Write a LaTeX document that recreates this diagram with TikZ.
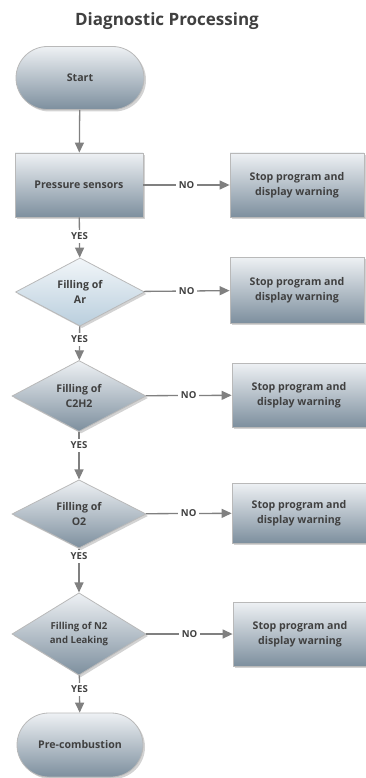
\documentclass[tikz,border=0pt]{standalone}
\usepackage{fontspec}
\setmainfont{Open Sans}
\usetikzlibrary{shapes.geometric,shapes.misc,shadows,arrows.meta}

\definecolor{txtgray}{HTML}{404040}
\definecolor{linegray}{HTML}{808080}
\definecolor{boxtop}{HTML}{EEF1F4}
\definecolor{boxbot}{HTML}{7D8F9E}
\definecolor{lighttop}{HTML}{F2F6F9}
\definecolor{lightbot}{HTML}{B9CEDD}

\begin{document}
\begin{tikzpicture}[x=1pt,y=-1pt,
   base/.style={draw=gray!55,line width=0.8pt,top color=boxtop,bottom color=boxbot,
      text=txtgray,align=center,inner sep=0pt,
      font=\fontsize{10.6}{15}\selectfont\bfseries,
      drop shadow={shadow xshift=2pt,shadow yshift=-2pt,opacity=0.35,fill=gray}},
   terminal/.style={base,rounded rectangle,minimum width=128pt,minimum height=63pt},
   process/.style={base,rectangle,minimum width=128pt,minimum height=64pt},
   stopbox/.style={base,rectangle,minimum width=134pt,minimum height=64pt},
   decision/.style={base,diamond,minimum width=134pt,minimum height=66pt},
   arr/.style={draw=linegray,line width=1.3pt,-{Triangle[width=9pt,length=10pt]}},
   lbl/.style={fill=white,text=txtgray,inner sep=3pt,font=\fontsize{9.6}{10}\selectfont\bfseries}]

   \useasboundingbox (0,0) rectangle (365,778);
   \node[text=txtgray,font=\fontsize{17}{20}\selectfont\bfseries] (title) at (167,21) {Diagnostic Processing};

   % main column
   \node[terminal] (start) at (80,78) {Start};
   \node[process] (ps) at (79,185) {Pressure sensors};
   \node[decision,minimum width=129pt,minimum height=60pt,top color=lighttop,bottom color=lightbot] (ar) at (80,292) {Filling of\\Ar};
   \node[decision,minimum height=71pt] (c2h2) at (79,396) {Filling of\\C2H2};
   \node[decision,minimum height=65pt] (o2) at (79,514) {Filling of\\O2};
   \node[decision,minimum height=73pt,font=\fontsize{9.6}{14.5}\selectfont\bfseries] (n2) at (79,634) {Filling of N2\\and Leaking};
   \node[terminal,minimum width=126pt,minimum height=64pt] (pre) at (80,745) {Pre-combustion};

   % warnings
   \node[stopbox] (stop1) at (297,185) {Stop program and\\display warning};
   \node[stopbox,minimum height=66pt] (stop2) at (297,290) {Stop program and\\display warning};
   \node[stopbox] (stop3) at (299,395) {Stop program and\\display warning};
   \node[stopbox,minimum height=60pt] (stop4) at (299,513) {Stop program and\\display warning};
   \node[stopbox] (stop5) at (300,634) {Stop program and\\display warning};

   \draw[arr] (start) -- (ps);
   \draw[arr] (ps) -- node[lbl,pos=0.47]{YES} (ar);
   \draw[arr] (ar) -- node[lbl,pos=0.38]{YES} (c2h2);
   \draw[arr] (c2h2) -- node[lbl,pos=0.28]{YES} (o2);
   \draw[arr] (o2) -- node[lbl,pos=0.18]{YES} (n2);
   \draw[arr] (n2) -- node[lbl,pos=0.37]{YES} (pre);

   \draw[arr] (ps) -- node[lbl]{NO} (stop1);
   \draw[arr] (ar) -- node[lbl]{NO} (stop2);
   \draw[arr] (c2h2) -- node[lbl]{NO} (stop3);
   \draw[arr] (o2) -- node[lbl]{NO} (stop4);
   \draw[arr] (n2) -- node[lbl]{NO} (stop5);
\end{tikzpicture}
\end{document}
